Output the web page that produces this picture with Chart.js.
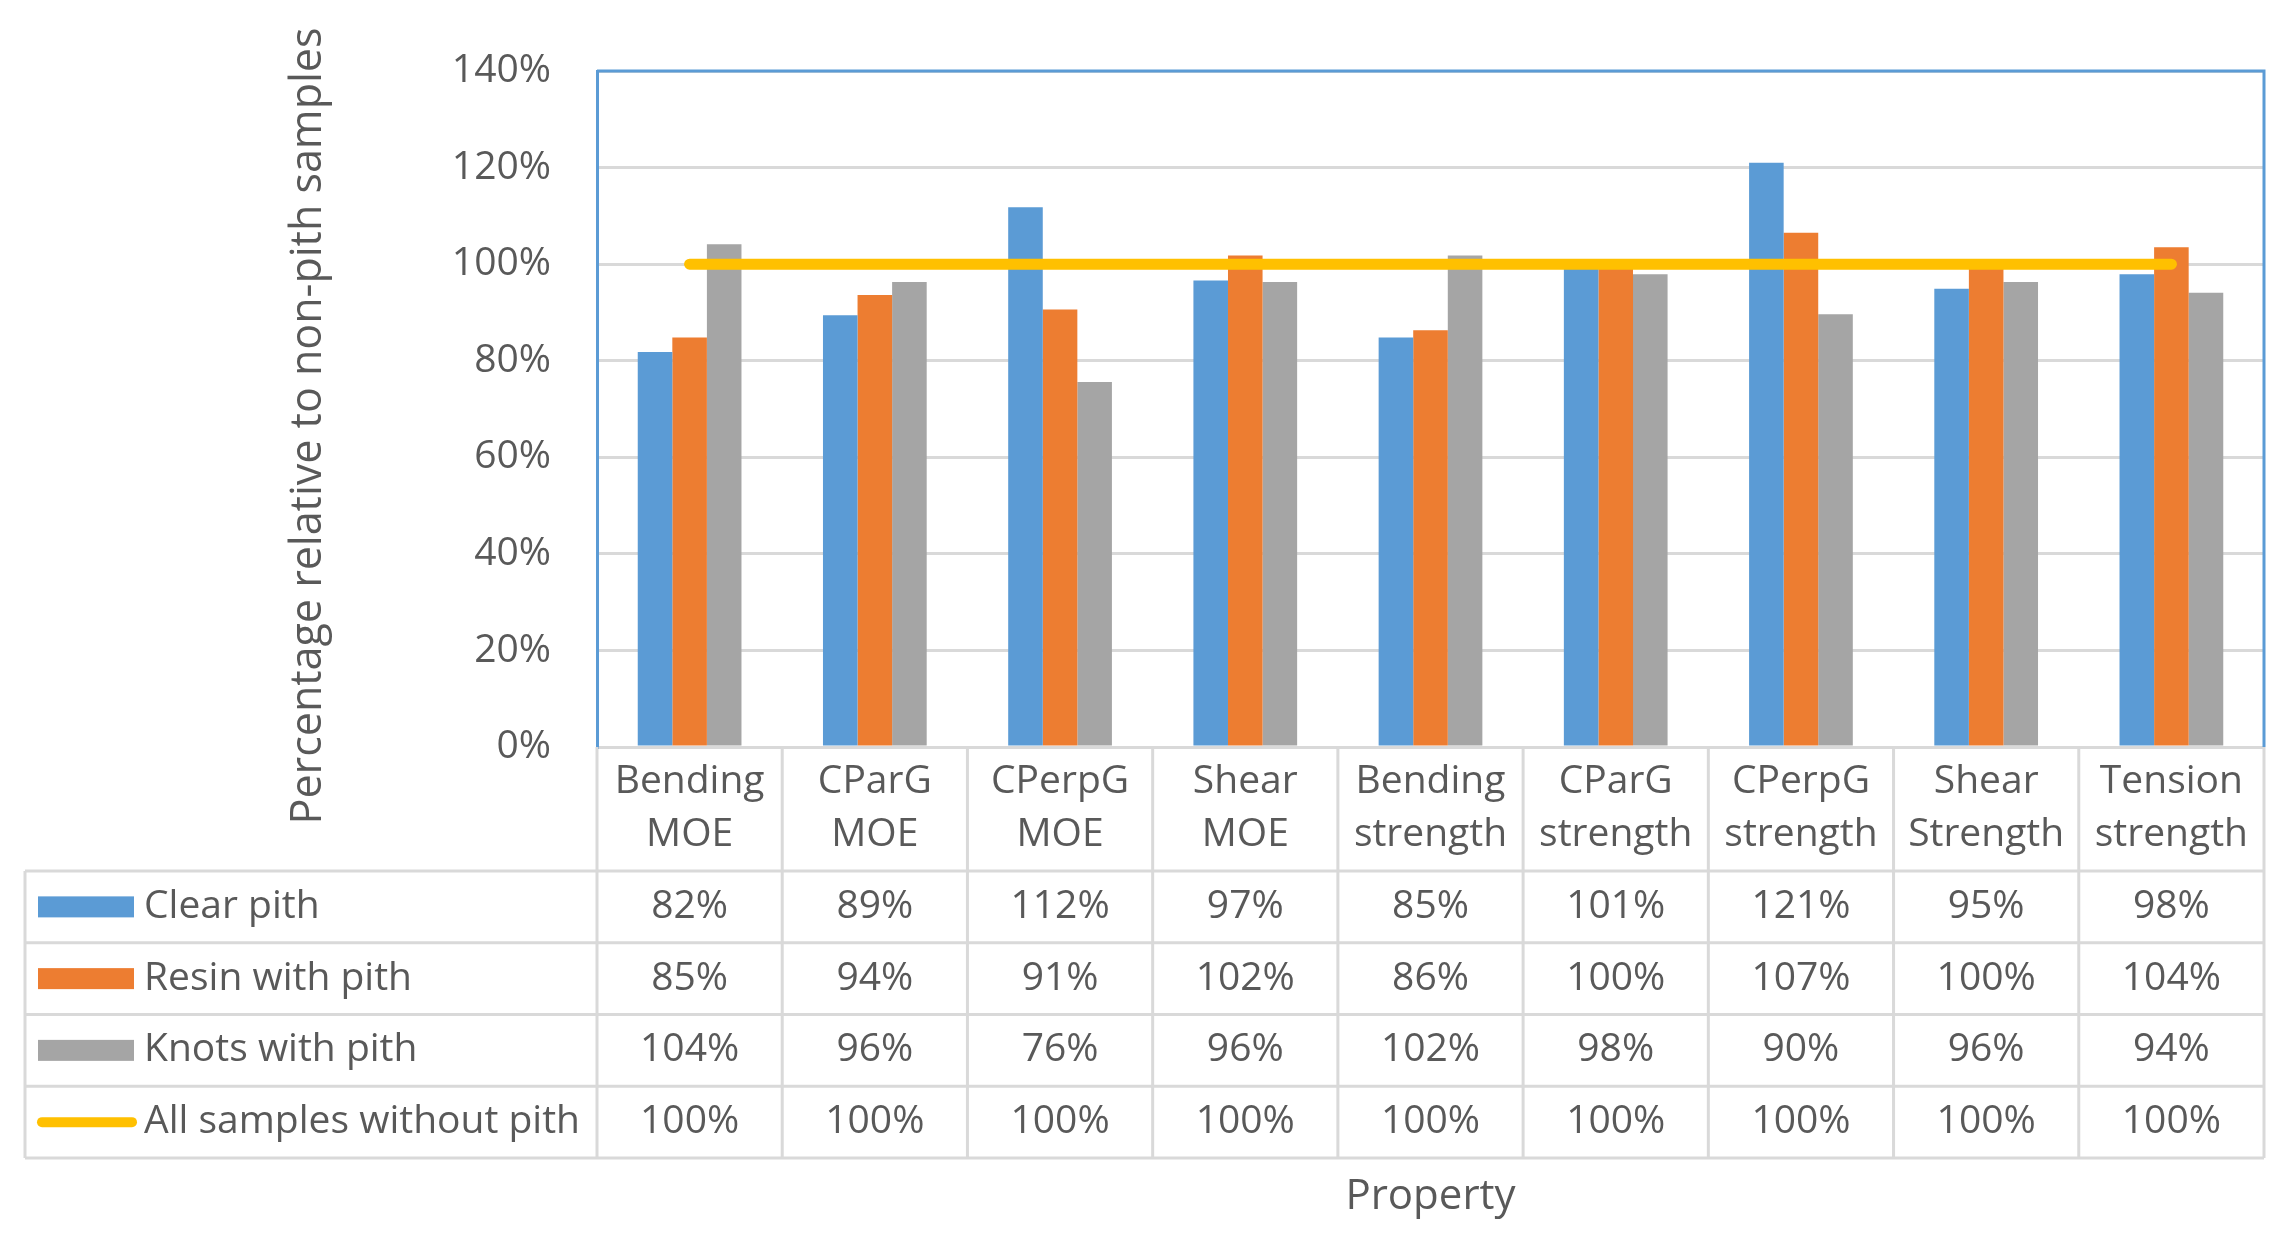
<!DOCTYPE html>
<html>
<head>
<meta charset="utf-8">
<script src="https://cdn.jsdelivr.net/npm/chart.js@4.4.1/dist/chart.umd.min.js"></script>
<style>
  body { margin: 0; background: #fff; }
  #wrap { width: 2295px; height: 1245px; }
</style>
</head>
<body>
<div id="wrap"><canvas id="myChart"></canvas></div>
<script>
const categories = [['Bending', 'MOE'], ['CParG', 'MOE'], ['CPerpG', 'MOE'], ['Shear', 'MOE'],
  ['Bending', 'strength'], ['CParG', 'strength'], ['CPerpG', 'strength'], ['Shear', 'Strength'], ['Tension', 'strength']];
const clearPith = [81.8, 89.4, 111.8, 96.6, 84.8, 100.6, 121.0, 94.9, 97.9];
const resinPith = [84.8, 93.6, 90.6, 101.8, 86.3, 100.2, 106.5, 100.0, 103.5];
const knotsPith = [104.1, 96.3, 75.6, 96.3, 101.8, 97.9, 89.6, 96.3, 94.1];
const noPith = [100, 100, 100, 100, 100, 100, 100, 100, 100];
const yTicks = [0, 20, 40, 60, 80, 100, 120, 140];
const yTitle = 'Percentage relative to non-pith samples';

const textColor = '#595959';
const fontFamily = '"Open Sans", sans-serif';
const fontSize = 39;

// draws the data table under the plot (legend keys + values), the y title and the blue plot frame
const dataTable = {
  id: 'dataTable',
  afterDraw(chart) {
    const ctx = chart.ctx;
    const area = chart.chartArea;
    const x = chart.scales.x;
    const band = x.width / categories.length;
    const headBottom = area.bottom + 124;
    const rowH = 71.75;
    const tableLeft = 25;
    const tableBottom = headBottom + rowH * 4;

    ctx.save();
    ctx.strokeStyle = '#d9d9d9';
    ctx.lineWidth = 3;
    ctx.beginPath();
    for (let r = 0; r <= 4; r++) {
      const y = headBottom + r * rowH;
      ctx.moveTo(tableLeft, y);
      ctx.lineTo(area.right, y);
    }
    ctx.moveTo(tableLeft, headBottom);
    ctx.lineTo(tableLeft, tableBottom);
    for (let i = 0; i <= categories.length; i++) {
      const xx = area.left + i * band;
      ctx.moveTo(xx, area.bottom);
      ctx.lineTo(xx, tableBottom);
    }
    ctx.stroke();

    ctx.font = fontSize + 'px ' + fontFamily;
    ctx.fillStyle = textColor;
    ctx.textBaseline = 'middle';

    chart.data.datasets.forEach((ds, r) => {
      const cy = headBottom + rowH * (r + 0.5);
      if (ds.type === 'line') {
        ctx.strokeStyle = ds.borderColor;
        ctx.lineWidth = 10;
        ctx.lineCap = 'round';
        ctx.beginPath();
        ctx.moveTo(42, cy);
        ctx.lineTo(132, cy);
        ctx.stroke();
      } else {
        ctx.fillStyle = ds.backgroundColor;
        ctx.fillRect(38, cy - 10.5, 96, 21);
      }
      ctx.fillStyle = textColor;
      ctx.textAlign = 'left';
      ctx.fillText(ds.label, 144, cy);
      ctx.textAlign = 'center';
      ds.data.forEach((v, i) => {
        ctx.fillText(Math.round(v) + '%', x.getPixelForValue(i), cy);
      });
    });

    // y axis title
    ctx.save();
    ctx.translate(309, 426);
    ctx.rotate(-Math.PI / 2);
    ctx.font = '43px ' + fontFamily;
    ctx.textAlign = 'center';
    ctx.fillText(yTitle, 0, 0);
    ctx.restore();

    ctx.strokeStyle = '#5b9bd5';
    ctx.lineWidth = 3;
    ctx.lineCap = 'butt';
    ctx.beginPath();
    ctx.moveTo(area.left, area.top);
    ctx.lineTo(area.right, area.top);
    ctx.lineTo(area.right, area.bottom);
    ctx.stroke();
    ctx.restore();
  }
};

const ctx = document.getElementById('myChart').getContext('2d');
const myChart = new Chart(ctx, {
  type: 'bar',
  data: {
    labels: categories,
    datasets: [
      { type: 'bar', label: 'Clear pith', data: clearPith, backgroundColor: '#5b9bd5', categoryPercentage: 0.56, barPercentage: 1, order: 1 },
      { type: 'bar', label: 'Resin with pith', data: resinPith, backgroundColor: '#ed7d31', categoryPercentage: 0.56, barPercentage: 1, order: 1 },
      { type: 'bar', label: 'Knots with pith', data: knotsPith, backgroundColor: '#a5a5a5', categoryPercentage: 0.56, barPercentage: 1, order: 1 },
      { type: 'line', label: 'All samples without pith', data: noPith, borderColor: '#ffc000', borderWidth: 11,
        borderCapStyle: 'round', pointRadius: 0, fill: false, order: 0 }
    ]
  },
  options: {
    responsive: true,
    maintainAspectRatio: false,
    animation: false,
    layout: { padding: { top: 71, right: 31, left: 0, bottom: 0 } },
    plugins: {
      legend: { display: false },
      tooltip: { enabled: false }
    },
    scales: {
      x: {
        grid: { display: false, drawTicks: false },
        border: { display: false },
        ticks: {
          color: textColor,
          font: { family: fontFamily, size: fontSize, lineHeight: 1.36 },
          padding: 8,
          maxRotation: 0,
          autoSkip: false
        },
        title: {
          display: true,
          text: 'Property',
          color: textColor,
          font: { family: fontFamily, size: 42, lineHeight: 1.2 },
          padding: { top: 0, bottom: 23 }
        },
        afterFit: (s) => { s.height = 498; }
      },
      y: {
        min: 0,
        max: 140,
        afterBuildTicks: (s) => { s.ticks = yTicks.map(v => ({ value: v })); },
        grid: { color: '#d9d9d9', lineWidth: 3, drawTicks: false },
        border: { color: '#5b9bd5', width: 3 },
        ticks: {
          color: textColor,
          font: { family: fontFamily, size: fontSize },
          padding: 46,
          callback: (v) => v + '%'
        },
        afterFit: (s) => { s.width = 597; }
      }
    }
  },
  plugins: [dataTable]
});
</script>
</body>
</html>
